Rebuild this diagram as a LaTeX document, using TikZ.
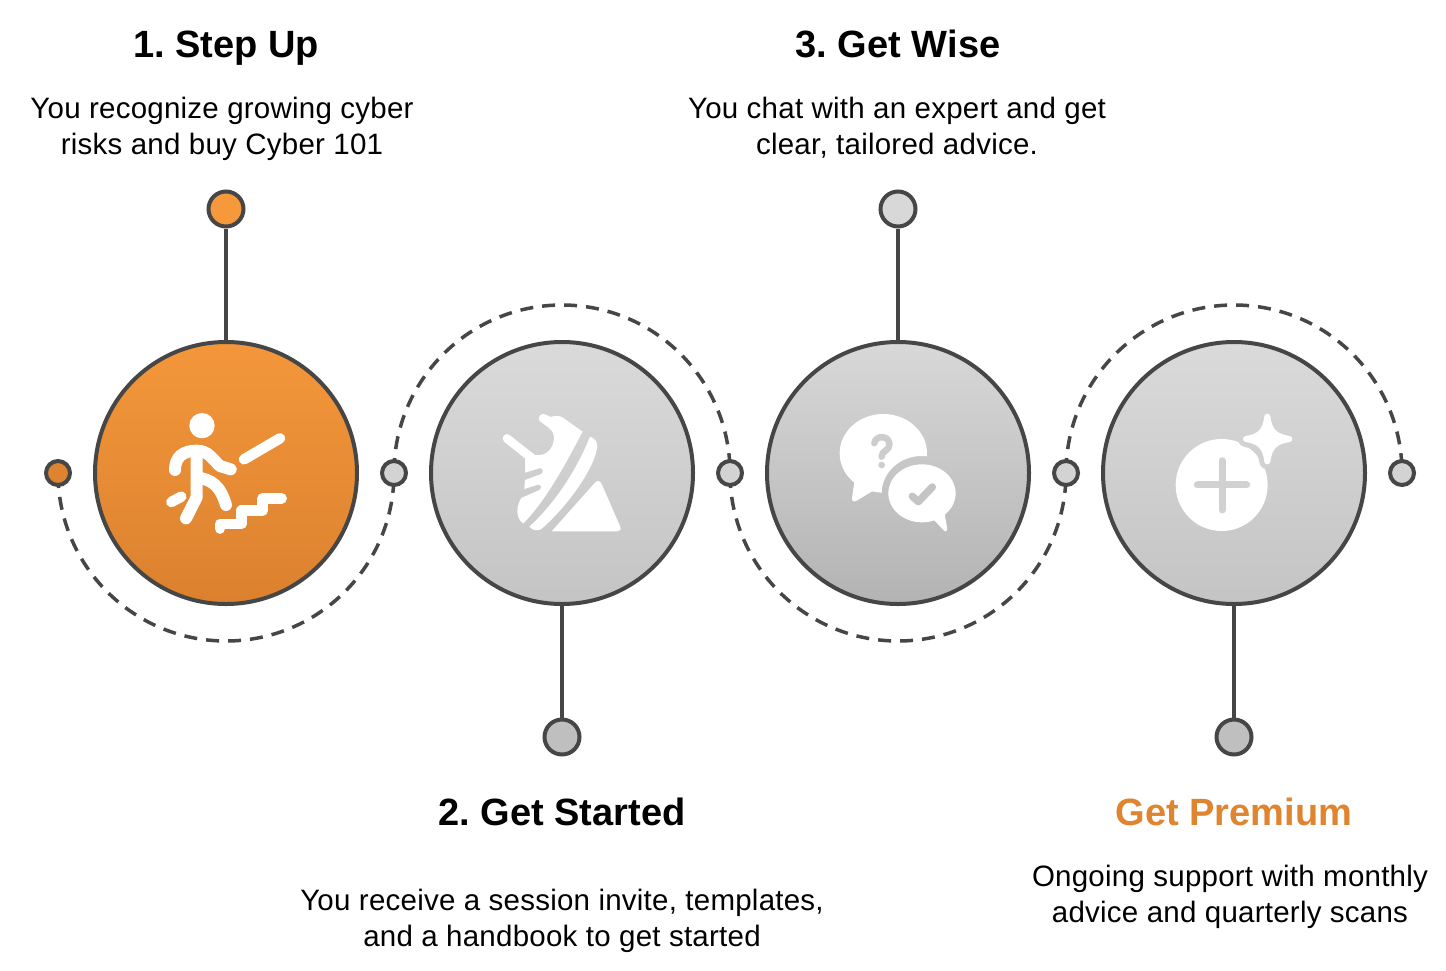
\documentclass[tikz,border=0pt]{standalone}
\usepackage{fontspec}
\setmainfont{Liberation Sans}
\usetikzlibrary{backgrounds}
\definecolor{ink}{HTML}{464646}
\definecolor{orangeA}{HTML}{F6993C}
\definecolor{orangeT}{HTML}{F4973B}
\definecolor{orangeB}{HTML}{DB812F}
\definecolor{greyA}{HTML}{DADADA}
\definecolor{greyB}{HTML}{C4C4C4}
\definecolor{greyE}{HTML}{BFBFBF}
\definecolor{greyC}{HTML}{D8D8D8}
\definecolor{greyD}{HTML}{B3B3B3}
\definecolor{premium}{HTML}{E0852F}
\frenchspacing
\tikzset{
  big/.style={circle,draw=ink,line width=4pt,minimum size=262pt,inner sep=0pt},
  tip/.style={circle,draw=ink,line width=4pt,minimum size=35pt,inner sep=0pt},
  mini/.style={circle,draw=ink,line width=4pt,minimum size=24pt,inner sep=0pt},
  stem/.style={draw=ink,line width=4pt},
  orbit/.style={draw=ink,line width=3.5pt,dash pattern=on 13pt off 9pt,dash phase=20pt},
  head/.style={font=\fontsize{38}{44}\selectfont\bfseries\frenchspacing,text=black,inner sep=0pt,anchor=base},
  body/.style={font=\fontsize{29.5}{36}\selectfont\addfontfeature{LetterSpace=0.8}\frenchspacing,text=black,align=center,inner sep=0pt,anchor=base},
  icon/.style={line cap=round,line join=round},
}
\begin{document}
\begin{tikzpicture}[x=1pt,y=-1pt]
\useasboundingbox (0,0) rectangle (1446,970);
\begin{pgfonlayer}{background}
\fill[white] (0,0) rectangle (1446,970);
\end{pgfonlayer}
% large circles
\node[big,top color=orangeT,bottom color=orangeB] (c1) at (226,473) {};
\node[big,top color=greyA,bottom color=greyB] (c2) at (562,473) {};
\node[big,top color=greyC,bottom color=greyD] (c3) at (898,473) {};
\node[big,top color=greyA,bottom color=greyB] (c4) at (1234,473) {};
% small dots on the axis
\node[mini,fill=orangeB!90!orangeA] (d0) at (58,473) {};
\node[mini,fill=greyA!70!greyB] (d1) at (394,473) {};
\node[mini,fill=greyA!70!greyB] (d2) at (730,473) {};
\node[mini,fill=greyA!70!greyB] (d3) at (1066,473) {};
\node[mini,fill=greyA!70!greyB] (d4) at (1402,473) {};
% terminal dots
\node[tip,fill=orangeA] (t1) at (226,209) {};
\node[tip,fill=greyE] (t2) at (562,737) {};
\node[tip,fill=greyC] (t3) at (898,209) {};
\node[tip,fill=greyE] (t4) at (1234,737) {};
% connectors
\draw[stem] (t1) -- (c1);
\draw[stem] (t2) -- (c2);
\draw[stem] (t3) -- (c3);
\draw[stem] (t4) -- (c4);
\begin{pgfonlayer}{background}
\draw[orbit] (d0.center) arc[start angle=180,end angle=0,radius=168];
\draw[orbit] (d1.center) arc[start angle=180,end angle=360,radius=168];
\draw[orbit] (d2.center) arc[start angle=180,end angle=0,radius=168];
\draw[orbit] (d3.center) arc[start angle=180,end angle=360,radius=168];
\end{pgfonlayer}
% icon 1
\begin{scope}[shift={(140,390)},x=0.3333pt,y=-0.3333pt,icon]
\fill[white] (186,107) circle[radius=38];
\draw[white,line width=12pt] (105,240) .. controls (105,200) and (130,182) .. (170,182) .. controls (205,182) and (215,205) .. (240,228) -- (272,238);
\draw[white,line width=12pt] (170,185) -- (170,322) -- (138,385);
\draw[white,line width=12pt] (172,262) .. controls (215,270) and (240,285) .. (258,345);
\draw[white,line width=10.5pt] (312,208) -- (420,145);
\draw[white,line width=10.5pt] (94,336) -- (124,320);
\draw[white,line width=10.5pt] (240,416) -- (240,402) -- (305,402) -- (305,362) -- (368,362) -- (368,325) -- (425,325);
\end{scope}
% icon 2
\begin{scope}[shift={(480,390)},x=0.3333pt,y=-0.3333pt,icon]
\fill[white] (178,92) .. controls (172,80) and (185,66) .. (198,74) -- (212,81) .. controls (225,76) and (240,76) .. (250,84) -- (308,125) .. controls (260,215) and (200,330) .. (130,400) .. controls (120,395) and (112,380) .. (112,365) .. controls (112,345) and (118,335) .. (124,324) -- (178,300) .. controls (186,295) and (184,282) .. (174,284) -- (133,297) -- (135,270) -- (184,252) .. controls (192,246) and (188,232) .. (178,235) -- (135,248) -- (135,205) -- (72,155) .. controls (60,142) and (78,124) .. (90,136) -- (165,195) .. controls (200,200) and (222,175) .. (222,140) .. controls (222,120) and (200,110) .. (178,92) -- cycle;
\fill[white] (330,140) .. controls (345,145) and (352,155) .. (352,170) .. controls (345,230) and (270,340) .. (190,412) .. controls (175,428) and (155,420) .. (148,410) .. controls (225,340) and (290,240) .. (330,140) -- cycle;
\fill[white] (215,424) -- (345,278) .. controls (352,270) and (360,272) .. (365,282) -- (420,408) .. controls (425,418) and (420,424) .. (412,424) -- cycle;
\end{scope}
% icon 3
\begin{scope}[shift={(820,390)},x=0.3333pt,y=-0.3333pt,icon]
\begin{scope}[even odd rule]
\clip (0,0) rectangle (510,480) (305,310) ellipse[x radius=120,y radius=112];
\fill[white] (190,190) ellipse[x radius=131,y radius=118];
\fill[white] (105,262) -- (96,325) .. controls (96,335) and (102,336) .. (110,332) -- (170,296) -- cycle;
\end{scope}
\fill[white] (306,310) ellipse[x radius=101,y radius=87];
\fill[white] (340,388) -- (372,422) .. controls (380,428) and (383,420) .. (381,412) -- (374,372) -- cycle;
\draw[greyC!70!greyD,line width=6.5pt] (163,160) .. controls (165,135) and (208,135) .. (208,162) .. controls (208,185) and (185,180) .. (185,200);
\fill[greyC!70!greyD] (185,225) circle[radius=10];
\draw[greyC!45!greyD,line width=7.5pt] (277,319) -- (295,335) -- (337,291);
\end{scope}
% icon 4
\begin{scope}[shift={(1150,390)},x=0.3333pt,y=-0.3333pt,icon]
\fill[white] (215,285) circle[radius=138];
\begin{scope}
\clip (215,285) circle[radius=140];
\draw[greyA!70!greyB,line width=16pt] (352,80) .. controls (358,120) and (380,140) .. (418,147) .. controls (380,154) and (358,175) .. (352,214) .. controls (346,175) and (325,154) .. (288,147) .. controls (325,140) and (346,120) .. (352,80) -- cycle;
\end{scope}
\filldraw[white,line width=6pt] (352,80) .. controls (358,125) and (375,140) .. (418,147) .. controls (375,154) and (358,170) .. (352,214) .. controls (346,170) and (330,154) .. (288,147) .. controls (330,140) and (346,125) .. (352,80) -- cycle;
\draw[greyA!60!greyB,line width=7pt] (142,285) -- (290,285);
\draw[greyA!60!greyB,line width=7pt] (216,212) -- (216,360);
\end{scope}
% texts
\node[head] (h1) at (226,57) {1. Step Up};
\node[body] (b1) at (222,154) {You recognize growing cyber\\risks and buy Cyber 101};
\node[head] (h2) at (562,825) {2. Get Started};
\node[body] (b2) at (562,946) {You receive a session invite, templates,\\and a handbook to get started};
\node[head] (h3) at (898,57) {3. Get Wise};
\node[body] (b3) at (897,154) {You chat with an expert and get\\clear, tailored advice.};
\node[head,text=premium] (h4) at (1234,825) {Get Premium};
\node[body] (b4) at (1230,922) {Ongoing support with monthly\\advice and quarterly scans};
\end{tikzpicture}
\end{document}
